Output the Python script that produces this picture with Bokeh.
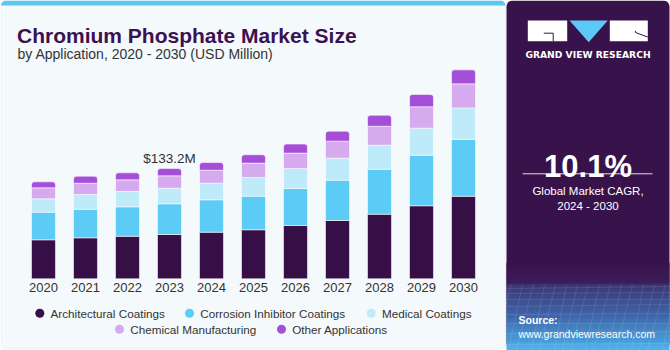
from bokeh.plotting import figure
from bokeh.models import Range1d, BoxAnnotation, Label, ColumnDataSource
from bokeh.embed import file_html
from bokeh.resources import INLINE
from bokeh.core.properties import value

# ---------------- data ----------------
years = [2020, 2021, 2022, 2023, 2024, 2025, 2026, 2027, 2028, 2029, 2030]
year_labels = [str(y) for y in years]
series = ["Architectural Coatings", "Corrosion Inhibitor Coatings", "Medical Coatings",
          "Chemical Manufacturing", "Other Applications"]
architectural = [47.1, 49.5, 51.4, 53.5, 56.3, 59.2, 64.4, 70.4, 78.0, 88.2, 99.7]
corrosion = [33.3, 34.5, 35.5, 37.1, 39.1, 40.6, 44.7, 48.7, 54.3, 61.1, 68.8]
medical = [16.2, 17.8, 18.5, 18.8, 20.0, 22.6, 24.2, 26.6, 29.0, 32.6, 37.9]
chemical = [13.3, 13.6, 14.1, 15.0, 15.7, 17.3, 18.5, 20.5, 22.9, 25.8, 29.0]
other = [7.2, 8.5, 8.5, 8.8, 9.3, 10.1, 10.9, 12.1, 13.3, 14.9, 16.9]
colors = ["#370f47", "#5ccbf6", "#bfeafa", "#d6aaee", "#a54fd9"]
annot_year = 2023
annot_text = "$133.2M"
title_text = "Chromium Phosphate Market Size"
subtitle_text = "by Application, 2020 - 2030 (USD Million)"
cagr_text = "10.1%"
cagr_label = ["Global Market CAGR,", "2024 - 2030"]
brand = "GRAND VIEW RESEARCH"
source_lines = ["Source:", "www.grandviewresearch.com"]

# ---------------- layout helpers ----------------
W, H = 670, 350
FONT = "Liberation Sans"
TXT = "#333333"
PURPLE = "#38124a"


def Y(py):
    return H - py


p = figure(width=W, height=H, x_range=Range1d(0, W), y_range=Range1d(0, H),
           output_backend="svg", toolbar_location=None, min_border=0,
           x_axis_type=None, y_axis_type=None, outline_line_color=None)
p.background_fill_color = "white"
p.border_fill_color = "white"

# data ranges mapped over the full canvas
px_per_year = 42.0
first_bar_px = 43.0
base_from_bottom = 71.7
units_per_px = 1.2076
p.extra_x_ranges = {"yr": Range1d(years[0] - first_bar_px / px_per_year,
                                  years[0] + (W - first_bar_px) / px_per_year)}
p.extra_y_ranges = {"val": Range1d(-base_from_bottom * units_per_px,
                                   (H - base_from_bottom) * units_per_px)}

# ---------------- panels ----------------
p.add_layout(BoxAnnotation(left=0.5, right=505, top=Y(0.5), bottom=Y(348.5),
                           fill_color="#f4f9fc", fill_alpha=1, line_color="#cfd3d7",
                           line_width=1, border_radius=6, level="underlay"))
p.add_layout(BoxAnnotation(left=0.5, right=505, top=Y(0), bottom=Y(5),
                           fill_color="#5bc8f0", fill_alpha=1, line_color=None,
                           border_radius=(5, 5, 0, 0), level="underlay"))
p.add_layout(BoxAnnotation(left=506, right=669, top=Y(0), bottom=Y(349),
                           fill_color=PURPLE, fill_alpha=1, line_color=None,
                           border_radius=6, level="underlay"))


# gradient at the bottom of the right panel
def hex2rgb(h):
    h = h.lstrip("#")
    return tuple(int(h[i:i + 2], 16) for i in (0, 2, 4))


stops = [(262, "#38124a"), (283, "#3c1d5a"), (284, "#3b3574"), (316, "#3f67ab"), (349, "#4db4ec")]
gl, gr, gt, gb, gc = [], [], [], [], []
for (y0, c0), (y1, c1) in zip(stops[:-1], stops[1:]):
    a, b = hex2rgb(c0), hex2rgb(c1)
    n = max(1, int(round((y1 - y0) / 2)))
    for k in range(n):
        t = (k + 0.5) / n
        col = "#%02x%02x%02x" % tuple(int(round(a[j] + (b[j] - a[j]) * t)) for j in range(3))
        ya = y0 + (y1 - y0) * k / n
        yb = y0 + (y1 - y0) * (k + 1) / n
        gl.append(506); gr.append(669); gt.append(Y(ya)); gb.append(Y(yb + 0.6)); gc.append(col)
p.quad(left=gl, right=gr, top=gt, bottom=gb, fill_color=gc, line_color=None)

# faint wireframe texture
wx0, wx1 = [], []
for k, yy in enumerate([288, 293, 299, 306, 314, 323, 333, 344]):
    wx0.append([506, 669]); wx1.append([Y(yy), Y(yy - 2 + (k % 3))])
for xx in range(500, 680, 11):
    wx0.append([xx, xx - 18 + (xx % 7)]); wx1.append([Y(284), Y(349)])
p.multi_line(xs=wx0, ys=wx1, line_color="white", line_alpha=0.13, line_width=0.8)

# ---------------- logo ----------------
p.quad(left=[527.3, 609.3], right=[566.7, 647.3], top=[Y(20), Y(20)], bottom=[Y(40.7), Y(40.7)],
       fill_color="white", line_color=None)
p.patch(x=[569, 607.3, 588.2], y=[Y(20), Y(20), Y(41.7)], fill_color="#5bc8f5", line_color=None)
p.multi_line(xs=[[543.3, 552.7, 552.7], [635, 635, 647.3]],
             ys=[[Y(32.7), Y(32.7), Y(40.7)], [Y(30.3), Y(32), Y(36.5)]],
             line_color=PURPLE, line_width=1)
p.add_layout(Label(x=587.5, y=Y(54), text=brand, text_align="center", text_baseline="alphabetic",
                   text_font="DejaVu Sans", text_font_style="bold", text_font_size="9.2px",
                   text_color="white"))

# ---------------- titles ----------------
p.add_layout(Label(x=16.5, y=Y(35), text=title_text, text_font=FONT, text_font_style="bold",
                   text_font_size="21px", text_color="#3b1152", text_baseline="alphabetic"))
p.add_layout(Label(x=17, y=Y(53), text=subtitle_text, text_font=FONT,
                   text_font_size="14px", text_color=TXT, text_baseline="alphabetic"))

# ---------------- bars ----------------
keys = ["architectural", "corrosion", "medical", "chemical", "other"]
src = ColumnDataSource(dict(year=years, architectural=architectural, corrosion=corrosion,
                            medical=medical, chemical=chemical, other=other))
rs = p.vbar_stack(keys, x="year", width=0.57, fill_color=colors, line_color="white",
                  line_alpha=0.55, line_width=1, source=src,
                  x_range_name="yr", y_range_name="val")
rs[-1].glyph.border_radius = (3, 3, 0, 0)

# year labels
p.text(x="year", y=Y(286.5), text="label",
       source=ColumnDataSource(dict(year=years, label=year_labels)),
       x_range_name="yr", text_align="center", text_baseline="middle",
       text_font=value(FONT), text_font_size="13px", text_color=TXT)

# value annotation
i = years.index(annot_year)
total = architectural[i] + corrosion[i] + medical[i] + chemical[i] + other[i]
p.add_layout(Label(x=annot_year, y=total, x_range_name="yr", y_range_name="val",
                   text=annot_text, text_align="center", text_baseline="alphabetic",
                   y_offset=10, text_font=FONT, text_font_size="13.5px", text_color=TXT))

# ---------------- legend ----------------
leg_x = [39.3, 189, 370.7, 119, 281]
leg_y = [Y(312.7)] * 3 + [Y(328.7)] * 2
p.scatter(x=leg_x, y=leg_y, size=9, marker="circle", fill_color=colors, line_color=None)
p.text(x=[x + 10.7 for x in leg_x], y=leg_y, text=series, text_baseline="middle",
       text_font=value(FONT), text_font_size="11.7px", text_color=TXT)

# ---------------- right panel text ----------------
p.add_layout(Label(x=587.5, y=Y(166), text=cagr_text, text_align="center",
                   text_font=FONT, text_font_style="bold", text_font_size="31px",
                   text_color="white", text_baseline="alphabetic"))
p.line(x=[522, 652], y=[Y(173.3), Y(173.3)], line_color="white", line_alpha=0.85, line_width=1)
p.add_layout(Label(x=587.5, y=Y(190.7), text=cagr_label[0], text_align="center",
                   text_font=FONT, text_font_size="11.5px", text_color="white",
                   text_baseline="alphabetic"))
p.add_layout(Label(x=587.5, y=Y(205.5), text=cagr_label[1], text_align="center",
                   text_font=FONT, text_font_size="11.5px", text_color="white",
                   text_baseline="alphabetic"))
p.add_layout(Label(x=518, y=Y(319.5), text=source_lines[0], text_font=FONT,
                   text_font_style="bold", text_font_size="10.5px", text_color="white",
                   text_baseline="alphabetic"))
p.add_layout(Label(x=518, y=Y(333.5), text=source_lines[1], text_font=FONT,
                   text_font_size="10.5px", text_color="white", text_baseline="alphabetic"))

open("out.html", "w").write(file_html(p, INLINE))
